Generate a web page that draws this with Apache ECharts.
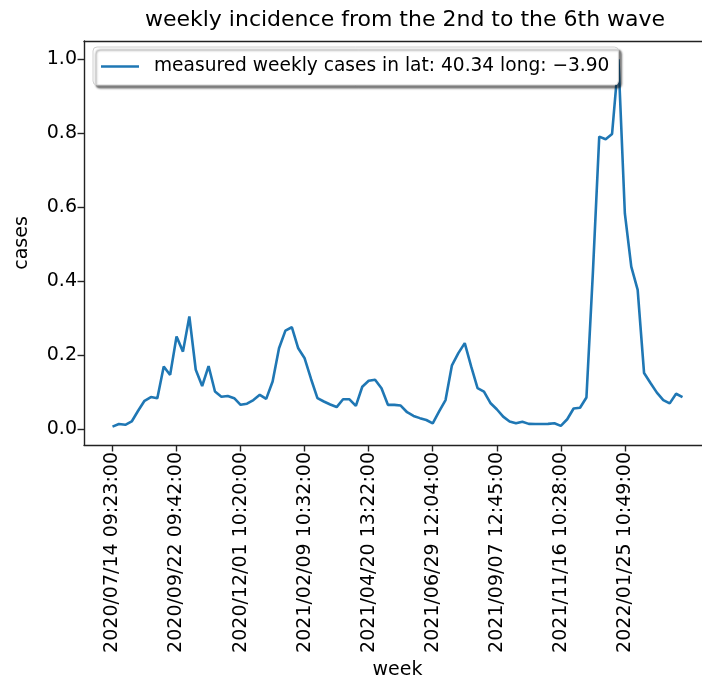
<!DOCTYPE html>
<html>
<head>
<meta charset="utf-8">
<script src="https://cdn.jsdelivr.net/npm/echarts@6/dist/echarts.min.js"></script>
<style>
html,body{margin:0;padding:0;background:#fff;}
#chart{width:702px;height:682px;}
</style>
</head>
<body>
<div id="chart"></div>
<script>
const titleText = 'weekly incidence from the 2nd to the 6th wave';
const seriesName = 'measured weekly cases in lat: 40.34 long: \u22123.90';
const xTickIndex = [0, 10, 20, 30, 40, 50, 60, 70, 80];
const xTickLabels = [
  '2020/07/14 09:23:00', '2020/09/22 09:42:00', '2020/12/01 10:20:00',
  '2021/02/09 10:32:00', '2021/04/20 13:22:00', '2021/06/29 12:04:00',
  '2021/09/07 12:45:00', '2021/11/16 10:28:00', '2022/01/25 10:49:00'
];
const yTicks = [0.0, 0.2, 0.4, 0.6, 0.8, 1.0];
const weeklyCases = [
  0.006, 0.013, 0.011, 0.020, 0.049, 0.076, 0.086, 0.083, 0.169, 0.146,
  0.250, 0.209, 0.304, 0.160, 0.116, 0.170, 0.101, 0.087, 0.089, 0.083,
  0.065, 0.068, 0.078, 0.092, 0.081, 0.128, 0.218, 0.266, 0.275, 0.218,
  0.191, 0.135, 0.083, 0.074, 0.066, 0.059, 0.080, 0.080, 0.062, 0.114,
  0.130, 0.133, 0.110, 0.065, 0.065, 0.063, 0.045, 0.035, 0.029, 0.024,
  0.015, 0.047, 0.078, 0.172, 0.205, 0.232, 0.169, 0.110, 0.101, 0.070,
  0.053, 0.033, 0.020, 0.015, 0.019, 0.0135, 0.013, 0.013, 0.0135, 0.015,
  0.008, 0.026, 0.055, 0.057, 0.085, 0.420, 0.791, 0.784, 0.798, 1.000,
  0.583, 0.439, 0.376, 0.151, 0.124, 0.098, 0.078, 0.069, 0.095, 0.086
];

const n = weeklyCases.length;
const xPad = (n - 1) * 0.05;
const yMinV = Math.min(...weeklyCases), yMaxV = Math.max(...weeklyCases);
const yPad = (yMaxV - yMinV) * 0.05;
const data = weeklyCases.map((v, i) => [i, v]);
const FONT = 'DejaVu Sans';
const FS = 19;
const chart = echarts.init(document.getElementById('chart'), null, {renderer: 'canvas'});
const axisLineStyle = {color: '#222', width: 1.4};
chart.setOption({
  animation: false,
  backgroundColor: '#fff',
  graphic: [{
    type: 'text', x: 405, y: 20,
    style: {text: titleText, fill: '#000', font: '22px "DejaVu Sans"', textAlign: 'center', textVerticalAlign: 'middle'}
  }],
  grid: {left: 84, top: 41, right: -9, bottom: 237, containLabel: false, outerBoundsMode: 'none'},
  legend: {
    show: true, left: 93, top: 47, z: 10,
    data: [{name: seriesName, icon: 'rect'}],
    itemWidth: 38, itemHeight: 2.6, itemGap: 10,
    padding: [10, 9, 9, 8],
    backgroundColor: '#fff', borderColor: '#d0d0d0', borderWidth: 1, borderRadius: 4,
    shadowColor: 'rgba(0,0,0,0.5)', shadowBlur: 2, shadowOffsetX: 3, shadowOffsetY: 3,
    textStyle: {fontFamily: FONT, fontSize: 18.6, color: '#000', padding: [0, 0, 0, 10]}
  },
  xAxis: [{
    type: 'value', min: -xPad, max: n - 1 + xPad,
    name: 'week', nameLocation: 'middle', nameGap: 214,
    nameTextStyle: {fontFamily: FONT, fontSize: FS, color: '#000'},
    axisLine: {show: true, onZero: false, lineStyle: axisLineStyle},
    splitLine: {show: false},
    axisTick: {show: true, length: 6.5, customValues: xTickIndex, lineStyle: axisLineStyle},
    axisLabel: {
      show: true, rotate: 90, margin: 7, customValues: xTickIndex,
      fontFamily: FONT, fontSize: FS, color: '#000',
      formatter: v => xTickLabels[xTickIndex.indexOf(Math.round(v))] || ''
    }
  }, {
    type: 'value', position: 'top', min: -xPad, max: n - 1 + xPad,
    axisLine: {show: true, onZero: false, lineStyle: axisLineStyle},
    axisTick: {show: false}, axisLabel: {show: false}, splitLine: {show: false}
  }],
  yAxis: [{
    type: 'value', min: yMinV - yPad, max: yMaxV + yPad,
    name: 'cases', nameLocation: 'middle', nameGap: 52, nameRotate: 90,
    nameTextStyle: {fontFamily: FONT, fontSize: FS, color: '#000'},
    axisLine: {show: true, onZero: false, lineStyle: axisLineStyle},
    splitLine: {show: false},
    axisTick: {show: true, length: 6.5, customValues: yTicks, lineStyle: axisLineStyle},
    axisLabel: {
      show: true, margin: 7, customValues: yTicks,
      fontFamily: FONT, fontSize: FS, color: '#000',
      formatter: v => v.toFixed(1)
    }
  }],
  series: [{
    name: seriesName, type: 'line', data: data,
    xAxisIndex: 0, yAxisIndex: 0,
    showSymbol: false, symbol: 'none',
    lineStyle: {color: '#1f77b4', width: 2.6},
    itemStyle: {color: '#1f77b4'}
  }]
});
</script>
</body>
</html>
